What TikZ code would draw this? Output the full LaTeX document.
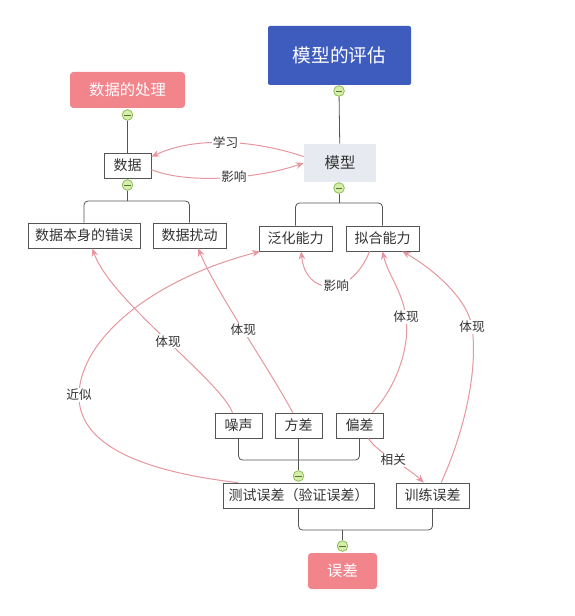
\documentclass[tikz,border=0pt]{standalone}
\usepackage{fontspec}
\setmainfont{Noto Sans CJK SC}
\usetikzlibrary{arrows.meta}
\definecolor{boxline}{RGB}{85,85,85}
\definecolor{txt}{RGB}{51,51,51}
\definecolor{bluebox}{RGB}{62,91,190}
\definecolor{pinkbox}{RGB}{242,132,140}
\definecolor{modelfill}{RGB}{232,234,242}
\definecolor{rel}{RGB}{230,150,158}
\definecolor{btnfill}{RGB}{214,238,170}
\definecolor{btnline}{RGB}{140,190,90}
\tikzset{
  box/.style={draw=boxline, line width=0.6pt, fill=white, inner sep=0pt,
    minimum height=25*0.75pt, font=\fontsize{10.5}{12}\selectfont, text=txt},
  bw/.style={minimum width=#1*0.75pt},
  bh/.style={minimum height=#1*0.75pt},
  titlebox/.style={fill=bluebox, rounded corners=1.5pt, inner sep=0pt, text=white,
    font=\fontsize{14}{16}\selectfont},
  pinkroot/.style={fill=pinkbox, rounded corners=2.5pt, inner sep=0pt, text=white,
    font=\fontsize{11.5}{13}\selectfont},
  modelbox/.style={fill=modelfill, inner sep=0pt, text=txt, font=\fontsize{11.5}{13}\selectfont},
  btn/.style={circle, draw=btnline, fill=btnfill, line width=0.5pt, inner sep=0pt,
    minimum size=10.5*0.75pt,
    path picture={\draw[btnline!60!black, line width=0.55pt]
      ([xshift=-2.4pt]path picture bounding box.center) --
      ([xshift=2.4pt]path picture bounding box.center);}},
  tree/.style={draw=boxline, line width=0.6pt, rounded corners=3pt},
  relarrow/.style={draw=rel, line width=0.75pt, -{Stealth[length=6pt,width=5pt]}},
  lbl/.style={fill=white, inner sep=1pt, text=txt, font=\fontsize{9.5}{11}\selectfont}
}
\begin{document}
\begin{tikzpicture}[x=0.75pt,y=-0.75pt]
\useasboundingbox (0,0) rectangle (574,616);
% nodes
\node[titlebox, bw=143, bh=59] (eval) at (339.5,55.5) {模型的评估};
\node[pinkroot, bw=115, bh=36] (proc) at (127.5,90) {数据的处理};
\node[box, bw=47] (data) at (127.5,165.5) {数据};
\node[modelbox, bw=72, bh=38] (model) at (340,163) {模型};
\node[box, bw=112] (err1) at (84,235.5) {数据本身的错误};
\node[box, bw=73] (pert) at (189.5,235.5) {数据扰动};
\node[box, bw=73] (gen) at (295.5,238.5) {泛化能力};
\node[box, bw=73] (fit) at (382.5,238.5) {拟合能力};
\node[box, bw=47] (noise) at (238.5,425.5) {噪声};
\node[box, bw=47] (var) at (298.5,425.5) {方差};
\node[box, bw=47] (bias) at (359.5,425.5) {偏差};
\node[box, bw=151] (test) at (298.5,495.5) {测试误差（验证误差）};
\node[box, bw=73] (train) at (432.5,495.5) {训练误差};
\node[pinkroot, bw=69, bh=36] (err) at (342.5,571) {误差};
% collapse buttons
\node[btn] (c1) at (127.5,115) {};
\node[btn] (c2) at (127.5,185) {};
\node[btn] (c3) at (339,91) {};
\node[btn] (c4) at (339,188) {};
\node[btn] (c5) at (298.5,476) {};
\node[btn] (c6) at (342.5,546) {};
% bracket points
\coordinate (b1) at (127.5,201);
\coordinate (b2) at (339,203);
\coordinate (b3) at (298.5,460);
\coordinate (b4) at (342.5,530);
% tree lines
\draw[tree] (c1) -- (data);
\draw[tree] (c2) -- (b1);
\draw[tree] (err1.north) -- (err1.north |- b1) -- (pert.north |- b1) -- (pert.north);
\draw[tree] (c3) -- (model);
\draw[tree] (c4) -- (b2);
\draw[tree] (gen.north) -- (gen.north |- b2) -- (fit.north |- b2) -- (fit.north);
\draw[tree] (noise.south) -- (noise.south |- b3) -- (bias.south |- b3) -- (bias.south);
\draw[tree] (var.south) -- (c5);
\draw[tree] (test.south) -- (test.south |- b4) -- (train.south |- b4) -- (train.south);
\draw[tree] (b4) -- (c6);
% relation arrows
\draw[relarrow] (model.170) .. controls (255,140) and (195,136) .. (data.20)
  node[lbl, pos=0.5] {学习};
\draw[relarrow] (data.-10) .. controls (190,185) and (260,178) .. (model.west)
  node[lbl, pos=0.55] {影响};
\draw[relarrow] (noise.115) .. controls (220,380) and (110,300) .. (err1.-57)
  node[lbl, pos=0.48] {体现};
\draw[relarrow] (var.114) .. controls (270,370) and (215,290) .. (pert.-56)
  node[lbl, pos=0.5] {体现};
\draw[relarrow] (test.168) .. controls (130,470) and (78,440) .. (79,395)
  node[lbl] {近似} .. controls (80,340) and (150,280) .. (gen.-160);
\draw[relarrow] (fit.-135) .. controls (350,300) and (305,295) .. (gen.-66)
  node[lbl, pos=0.42] {影响};
\draw[relarrow] (bias.45) .. controls (398,385) and (410,345) .. (406,317)
  node[lbl] {体现} .. controls (402,290) and (388,275) .. (fit.south);
\draw[relarrow] (train.56) .. controls (465,430) and (478,370) .. (472,327)
  node[lbl] {体现} .. controls (468,300) and (435,270) .. (fit.-33);
\draw[relarrow] (bias.-56) .. controls (380,455) and (405,465) .. (train.124)
  node[lbl, pos=0.5] {相关};
% buttons on top
\node[btn] at (c1) {};
\node[btn] at (c2) {};
\node[btn] at (c3) {};
\node[btn] at (c4) {};
\node[btn] at (c5) {};
\node[btn] at (c6) {};
\end{tikzpicture}
\end{document}
